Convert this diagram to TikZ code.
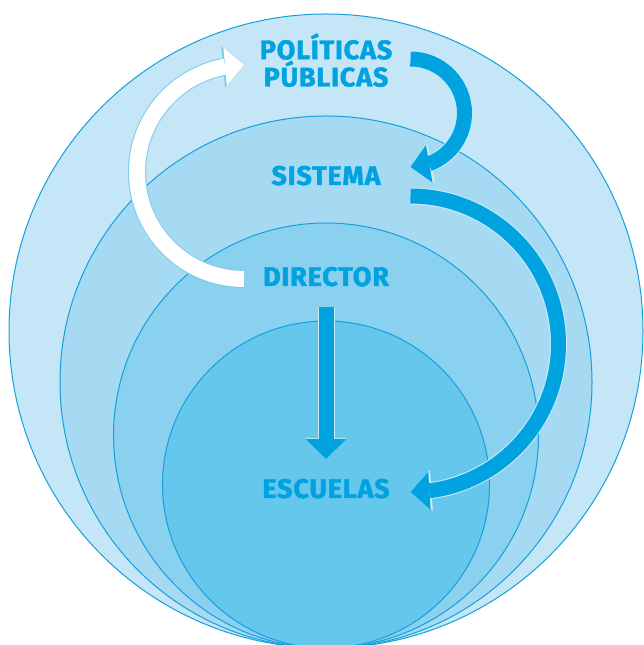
\documentclass[tikz,border=0pt]{standalone}
\usepackage{fontspec}
\setmainfont{Fira Sans}
\newfontfamily\levelfont{Fira Sans}[LetterSpace=3,BoldFeatures={FakeBold=1.6}]
\usetikzlibrary{arrows.meta,bending}
\definecolor{ringA}{RGB}{196,230,246}
\definecolor{ringB}{RGB}{166,218,242}
\definecolor{ringC}{RGB}{138,209,240}
\definecolor{ringD}{RGB}{102,199,236}
\definecolor{ringline}{RGB}{20,160,220}
\definecolor{flow}{RGB}{0,163,224}
\definecolor{flowedge}{RGB}{205,235,248}
\definecolor{backedge}{RGB}{125,203,236}

\begin{document}
\begin{tikzpicture}[x=1pt,y=1pt,
    ring/.style={draw=ringline, line width=1pt},
    level/.style={text=flow, font=\levelfont\fontsize{27}{26}\selectfont\bfseries, align=center, inner sep=0pt},
    flowarrow/.style={draw=flow, line width=15pt,
      -{Triangle[length=19pt,width=38pt,line width=0pt,flex]},
      preaction={draw=flowedge, line width=17pt,
        -{Triangle[length=21pt,width=41pt,line width=0pt,flex]}}},
    backarrow/.style={draw=white, line width=16pt,
      -{Triangle[length=19pt,width=38pt,line width=0pt,flex]},
      preaction={draw=backedge, line width=18pt,
        -{Triangle[length=21pt,width=41pt,line width=0pt,flex]}}}]
  \useasboundingbox (0,0) rectangle (643,645);

  % nested circles, all touching at the bottom
  \draw [ring, fill=ringA] (326,314) circle [radius=317pt];
  \draw [ring, fill=ringB] (326,263) circle [radius=266pt];
  \draw [ring, fill=ringC] (326,209.5) circle [radius=212.5pt];
  \draw [ring, fill=ringD] (326,160.5) circle [radius=163.5pt];

  % levels
  \node [level, anchor=base] (pp) at (326,558.5) {POLÍTICAS\\PÚBLICAS};
  \node [level, anchor=base] (sis) at (326,460) {SISTEMA};
  \node [level, anchor=base] (dir) at (326,359) {DIRECTOR};
  \node [level, anchor=base] (esc) at (326,147) {ESCUELAS};

  % arrow ends
  \coordinate (pp-out) at (410.5,586);
  \coordinate (sis-out) at (410.5,449);
  \coordinate (dir-out) at (326,338);
  \coordinate (dir-back) at (244,366);

  \draw [flowarrow] (pp-out) arc [start angle=90, end angle=-90, radius=54pt];
  \draw [flowarrow] (sis-out) arc [start angle=90, end angle=-90, radius=148pt];
  \draw [flowarrow, -{Triangle[length=20pt,width=41pt,line width=0pt]}] (dir-out) -- (dir-out |- 0,186);
  \draw [backarrow] (dir-back) arc [start angle=270, end angle=90, radius=107pt];
\end{tikzpicture}
\end{document}
